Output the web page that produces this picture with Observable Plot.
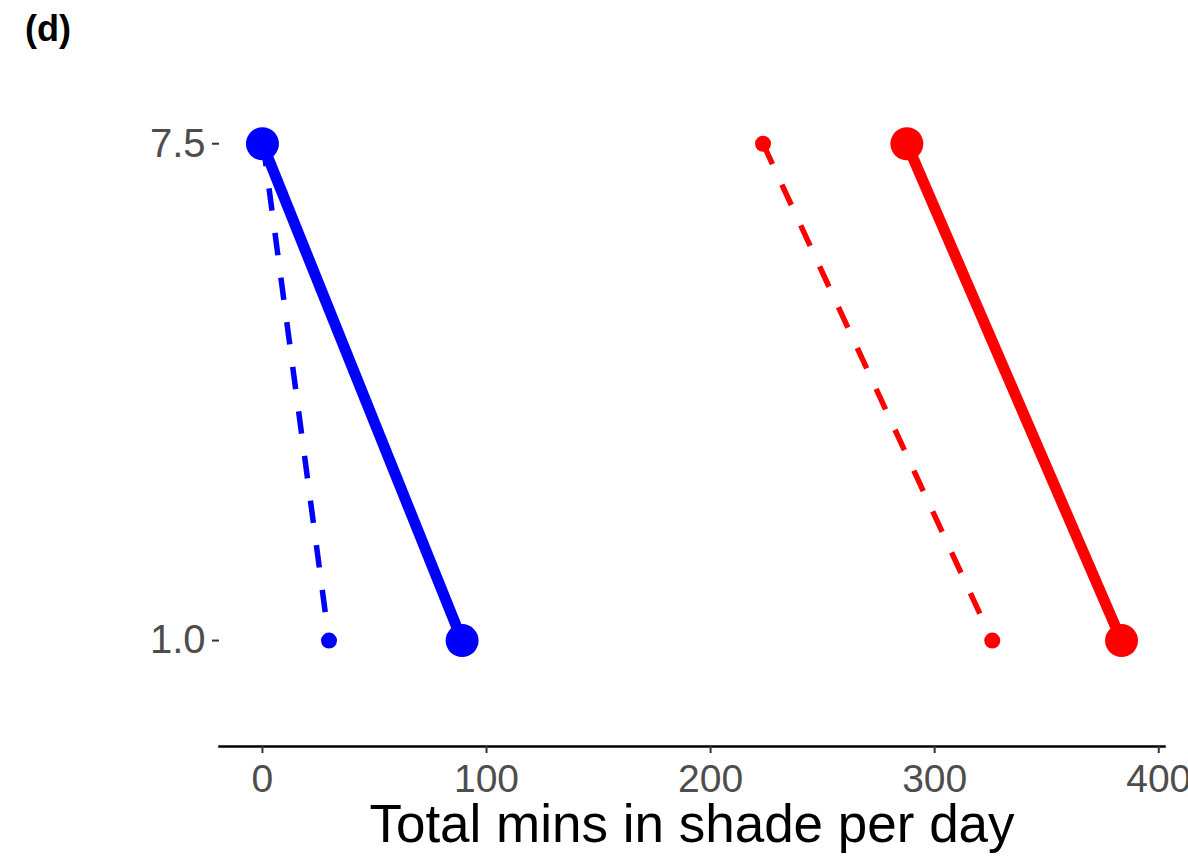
<!DOCTYPE html>
<html><head><meta charset="utf-8">
<script src="https://cdn.jsdelivr.net/npm/d3@7"></script>
<script src="https://cdn.jsdelivr.net/npm/@observablehq/plot@0.6"></script>
<style>
html,body{margin:0;padding:0;background:#fff;font-family:"Liberation Sans",Arial,sans-serif;overflow:hidden;}
#wrap{position:relative;width:1188px;height:863px;overflow:hidden;}
#tag{position:absolute;left:25px;top:11px;font-size:36px;line-height:36px;font-weight:bold;color:#000;}
</style></head><body>
<div id="wrap"><div id="tag"></div></div>
<script>
const panelTag = "(d)";
const xTitle = "Total mins in shade per day";
const seriesName = ["S1","S1","S2","S2","S3","S3","S4","S4"];
const seriesGroup = ["Group 1","Group 1","Group 1","Group 1","Group 2","Group 2","Group 2","Group 2"];
const seriesType = ["main","main","alt","alt","alt","alt","main","main"];
const minsInShade = [0, 89.1, 0.3, 29.7, 223.4, 325.7, 287.6, 383.4];
const level = [7.5, 1.0, 7.5, 1.0, 7.5, 1.0, 7.5, 1.0];
const xTicks = [0, 100, 200, 300, 400];
const yTicks = [1.0, 7.5];

const rows = minsInShade.map((m, i) => ({series: seriesName[i], group: seriesGroup[i], type: seriesType[i], mins: m, level: level[i]}));
const mainRows = rows.filter(d => d.type === "main");
const altRows = rows.filter(d => d.type === "alt");

document.getElementById("tag").textContent = panelTag;

const chart = Plot.plot({
  width: 1188, height: 863,
  marginLeft: 219, marginRight: 24, marginTop: 105, marginBottom: 117,
  x: {domain: [-19.17, 402.57]},
  y: {domain: [-0.386, 8.0]},
  color: {domain: ["Group 1", "Group 2"], range: ["#0000ff", "#ff0000"]},
  style: {fontFamily: '"Liberation Sans", Arial, sans-serif', background: "white"},
  marks: [
    Plot.frame({anchor: "bottom", stroke: "#000", strokeWidth: 2.5}),
    Plot.axisX({ticks: xTicks, tickSize: 7, tickPadding: 11, fontSize: 39, fill: "#4d4d4d", stroke: "#333", strokeWidth: 2, label: null}),
    Plot.axisY({ticks: yTicks, tickFormat: d3.format(".1f"), tickSize: 7, tickPadding: 7, fontSize: 40, fill: "#4d4d4d", stroke: "#333", strokeWidth: 2, label: null}),
    Plot.line(altRows, {x: "mins", y: "level", z: "series", stroke: "group", strokeWidth: 5.5, strokeDasharray: "22.5,22.5", strokeLinecap: "butt"}),
    Plot.line(mainRows, {x: "mins", y: "level", z: "series", stroke: "group", strokeWidth: 11, strokeLinecap: "butt"}),
    Plot.dot(altRows, {x: "mins", y: "level", fill: "group", r: 8}),
    Plot.dot(mainRows, {x: "mins", y: "level", fill: "group", r: 16.5}),
    Plot.text([xTitle], {text: d => d, frameAnchor: "bottom", lineAnchor: "top", dy: 58, fontSize: 53, fill: "#000"})
  ]
});
document.getElementById("wrap").appendChild(chart);
</script>
</body></html>
